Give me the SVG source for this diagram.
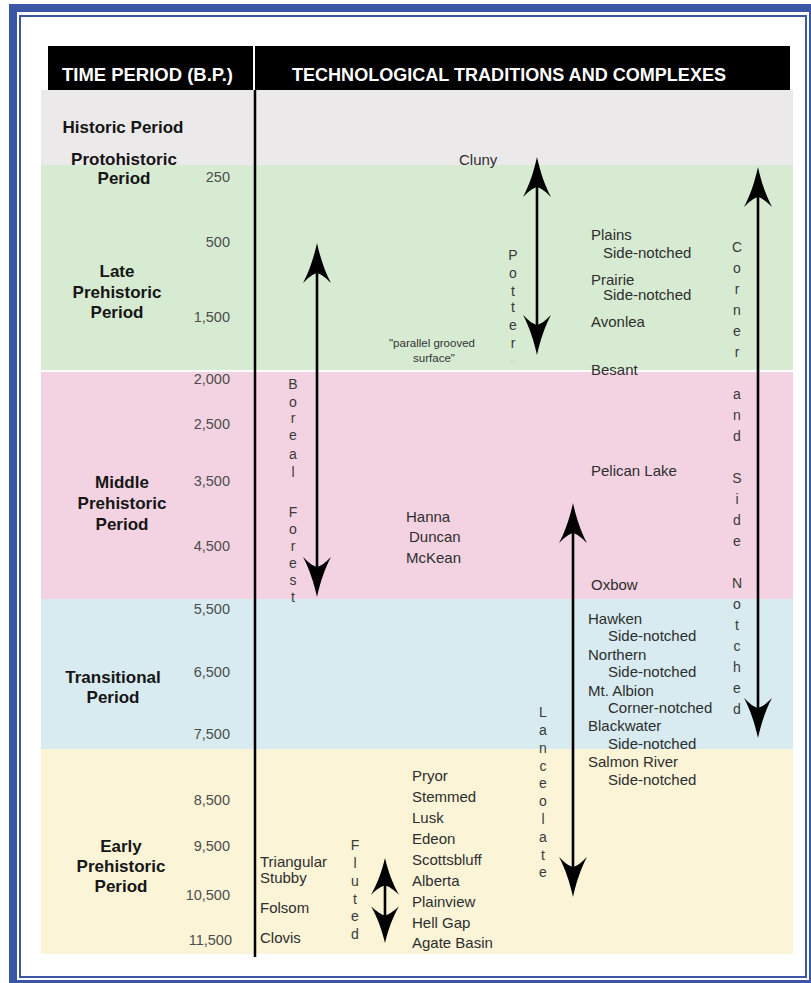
<svg xmlns="http://www.w3.org/2000/svg" xmlns:xlink="http://www.w3.org/1999/xlink" width="811" height="983" viewBox="0 0 811 983">
<style>
text{font-family:"Liberation Sans",Arial,sans-serif}
.hd{fill:#fff;font-weight:bold;font-size:18px}
.per{font-weight:bold;font-size:17px;fill:#161616;text-anchor:middle}
.num{font-size:14.5px;fill:#4d4d4d;text-anchor:end}
.lb{font-size:15px;fill:#2e2e2e}
.vl{font-size:14px;fill:#3a3a3a;text-anchor:middle}
.sm{font-size:11.5px;fill:#333;text-anchor:middle}
.shaft{stroke:#000;stroke-width:2.6;fill:none}
</style>
<defs>
<path id="ah" d="M0,0 C3,14 8,29 14,40 C8,34 4,31 0,30 C-4,31 -8,34 -14,40 C-8,29 -3,14 0,0 Z" fill="#000"/>
</defs>
<rect width="811" height="983" fill="#fff"/>
<g id="frame" fill="none" stroke="#3c55a5">
<rect x="13" y="8" width="800" height="976" stroke-width="8"/>
<rect x="20" y="16" width="786" height="961" stroke-width="2"/>
</g>
<g id="bands">
<rect x="41" y="90" width="752" height="76" fill="#ebe9e9"/>
<rect x="41" y="165" width="752" height="205" fill="#d6ebd2"/>
<rect x="41" y="372" width="752" height="228" fill="#f3d3e1"/>
<rect x="41" y="599" width="752" height="151" fill="#d7ebf0"/>
<rect x="41" y="749" width="752" height="205" fill="#fbf4d7"/>
</g>
<g id="header">
<rect x="48" y="46" width="742" height="44" fill="#000"/>
<rect x="253" y="46" width="2" height="44" fill="#fff"/>
<text class="hd" x="62" y="81" textLength="171" lengthAdjust="spacingAndGlyphs">TIME PERIOD (B.P.)</text>
<text class="hd" x="292" y="81" textLength="434" lengthAdjust="spacingAndGlyphs">TECHNOLOGICAL TRADITIONS AND COMPLEXES</text>
</g>
<line id="divider" x1="255" y1="90" x2="255" y2="957" stroke="#000" stroke-width="2.5"/>
<g id="periods">
<g id="p-historic"><text class="per" x="123" y="133">Historic Period</text></g>
<g id="p-proto"><text class="per" x="124" y="165">Protohistoric</text><text class="per" x="124" y="184">Period</text></g>
<g id="p-late"><text class="per" x="117" y="277">Late</text><text class="per" x="117" y="298">Prehistoric</text><text class="per" x="117" y="318">Period</text></g>
<g id="p-middle"><text class="per" x="122" y="488">Middle</text><text class="per" x="122" y="509">Prehistoric</text><text class="per" x="122" y="530">Period</text></g>
<g id="p-trans"><text class="per" x="113" y="683">Transitional</text><text class="per" x="113" y="703">Period</text></g>
<g id="p-early"><text class="per" x="121" y="852">Early</text><text class="per" x="121" y="872">Prehistoric</text><text class="per" x="121" y="892">Period</text></g>
</g>
<g id="dates">
<text class="num" x="230" y="182">250</text>
<text class="num" x="230" y="247">500</text>
<text class="num" x="230" y="322">1,500</text>
<text class="num" x="230" y="384">2,000</text>
<text class="num" x="230" y="429">2,500</text>
<text class="num" x="230" y="486">3,500</text>
<text class="num" x="230" y="551">4,500</text>
<text class="num" x="230" y="614">5,500</text>
<text class="num" x="230" y="677">6,500</text>
<text class="num" x="230" y="739">7,500</text>
<text class="num" x="230" y="805">8,500</text>
<text class="num" x="230" y="851">9,500</text>
<text class="num" x="230" y="900">10,500</text>
<text class="num" x="232" y="945">11,500</text>
</g>
<g id="connectors">
<line class="shaft" x1="317" y1="268" x2="317" y2="572"/>
<use xlink:href="#ah" transform="translate(317,243)"/>
<use xlink:href="#ah" transform="translate(317,597) rotate(180)"/>
<line class="shaft" x1="537" y1="182" x2="537" y2="330"/>
<use xlink:href="#ah" transform="translate(537,157)"/>
<use xlink:href="#ah" transform="translate(537,355) rotate(180)"/>
<line class="shaft" x1="758" y1="192" x2="758" y2="713"/>
<use xlink:href="#ah" transform="translate(758,167)"/>
<use xlink:href="#ah" transform="translate(758,738) rotate(180)"/>
<line class="shaft" x1="573" y1="528" x2="573" y2="872"/>
<use xlink:href="#ah" transform="translate(573,503)"/>
<use xlink:href="#ah" transform="translate(573,897) rotate(180)"/>
<line class="shaft" x1="385" y1="880" x2="385" y2="921"/>
<use xlink:href="#ah" transform="translate(385,858) scale(1,0.92)"/>
<use xlink:href="#ah" transform="translate(385,943) rotate(180) scale(1,0.92)"/>
</g>
<g id="boreal-forest">
<text class="vl" x="293" y="389">B</text><text class="vl" x="293" y="407">o</text><text class="vl" x="293" y="423">r</text><text class="vl" x="293" y="440">e</text><text class="vl" x="293" y="459">a</text><text class="vl" x="293" y="477">l</text>
<text class="vl" x="293" y="517">F</text><text class="vl" x="293" y="534">o</text><text class="vl" x="293" y="551">r</text><text class="vl" x="293" y="568">e</text><text class="vl" x="293" y="585">s</text><text class="vl" x="293" y="602">t</text>
</g>
<g id="pottery">
<text class="vl" x="513" y="260">P</text><text class="vl" x="513" y="278">o</text><text class="vl" x="513" y="296">t</text><text class="vl" x="513" y="312">t</text><text class="vl" x="513" y="330">e</text><text class="vl" x="513" y="348">r</text>
<text class="vl" x="513" y="362" style="font-size:10px;fill:#b8c8b6">..</text>
</g>
<g id="corner-side-notched">
<text class="vl" x="737" y="252">C</text><text class="vl" x="737" y="273">o</text><text class="vl" x="737" y="294">r</text><text class="vl" x="737" y="315">n</text><text class="vl" x="737" y="336">e</text><text class="vl" x="737" y="357">r</text>
<text class="vl" x="737" y="399">a</text><text class="vl" x="737" y="420">n</text><text class="vl" x="737" y="441">d</text>
<text class="vl" x="737" y="483">S</text><text class="vl" x="737" y="504">i</text><text class="vl" x="737" y="525">d</text><text class="vl" x="737" y="546">e</text>
<text class="vl" x="737" y="588">N</text><text class="vl" x="737" y="609">o</text><text class="vl" x="737" y="630">t</text><text class="vl" x="737" y="651">c</text><text class="vl" x="737" y="672">h</text><text class="vl" x="737" y="693">e</text><text class="vl" x="737" y="714">d</text>
</g>
<g id="lanceolate">
<text class="vl" x="543" y="717">L</text><text class="vl" x="543" y="735">a</text><text class="vl" x="543" y="753">n</text><text class="vl" x="543" y="771">c</text><text class="vl" x="543" y="788">e</text><text class="vl" x="543" y="806">o</text><text class="vl" x="543" y="824">l</text><text class="vl" x="543" y="842">a</text><text class="vl" x="543" y="860">t</text><text class="vl" x="543" y="877">e</text>
</g>
<g id="fluted">
<text class="vl" x="355" y="850">F</text><text class="vl" x="355" y="868">l</text><text class="vl" x="355" y="886">u</text><text class="vl" x="355" y="904">t</text><text class="vl" x="355" y="921">e</text><text class="vl" x="355" y="939">d</text>
</g>
<g id="late-types">
<text class="lb" x="459" y="165">Cluny</text>
<text class="sm" x="432" y="347">"parallel grooved</text>
<text class="sm" x="434" y="362">surface"</text>
<text class="lb" x="591" y="240">Plains</text>
<text class="lb" x="603" y="258">Side-notched</text>
<text class="lb" x="591" y="285">Prairie</text>
<text class="lb" x="603" y="300">Side-notched</text>
<text class="lb" x="591" y="327">Avonlea</text>
<text class="lb" x="591" y="375">Besant</text>
</g>
<g id="middle-types">
<text class="lb" x="591" y="476">Pelican Lake</text>
<text class="lb" x="406" y="522">Hanna</text>
<text class="lb" x="409" y="542">Duncan</text>
<text class="lb" x="406" y="563">McKean</text>
<text class="lb" x="591" y="590">Oxbow</text>
</g>
<g id="transitional-types">
<text class="lb" x="588" y="624">Hawken</text>
<text class="lb" x="608" y="641">Side-notched</text>
<text class="lb" x="588" y="660">Northern</text>
<text class="lb" x="608" y="677">Side-notched</text>
<text class="lb" x="588" y="696">Mt. Albion</text>
<text class="lb" x="608" y="713">Corner-notched</text>
<text class="lb" x="588" y="731">Blackwater</text>
<text class="lb" x="608" y="749">Side-notched</text>
<text class="lb" x="588" y="767">Salmon River</text>
<text class="lb" x="608" y="785">Side-notched</text>
</g>
<g id="early-types">
<text class="lb" x="412" y="781">Pryor</text>
<text class="lb" x="412" y="802">Stemmed</text>
<text class="lb" x="412" y="823">Lusk</text>
<text class="lb" x="412" y="844">Edeon</text>
<text class="lb" x="412" y="865">Scottsbluff</text>
<text class="lb" x="412" y="886">Alberta</text>
<text class="lb" x="412" y="907">Plainview</text>
<text class="lb" x="412" y="928">Hell Gap</text>
<text class="lb" x="412" y="948">Agate Basin</text>
<text class="lb" x="260" y="867">Triangular</text>
<text class="lb" x="260" y="883">Stubby</text>
<text class="lb" x="260" y="913">Folsom</text>
<text class="lb" x="260" y="943">Clovis</text>
</g>
</svg>
